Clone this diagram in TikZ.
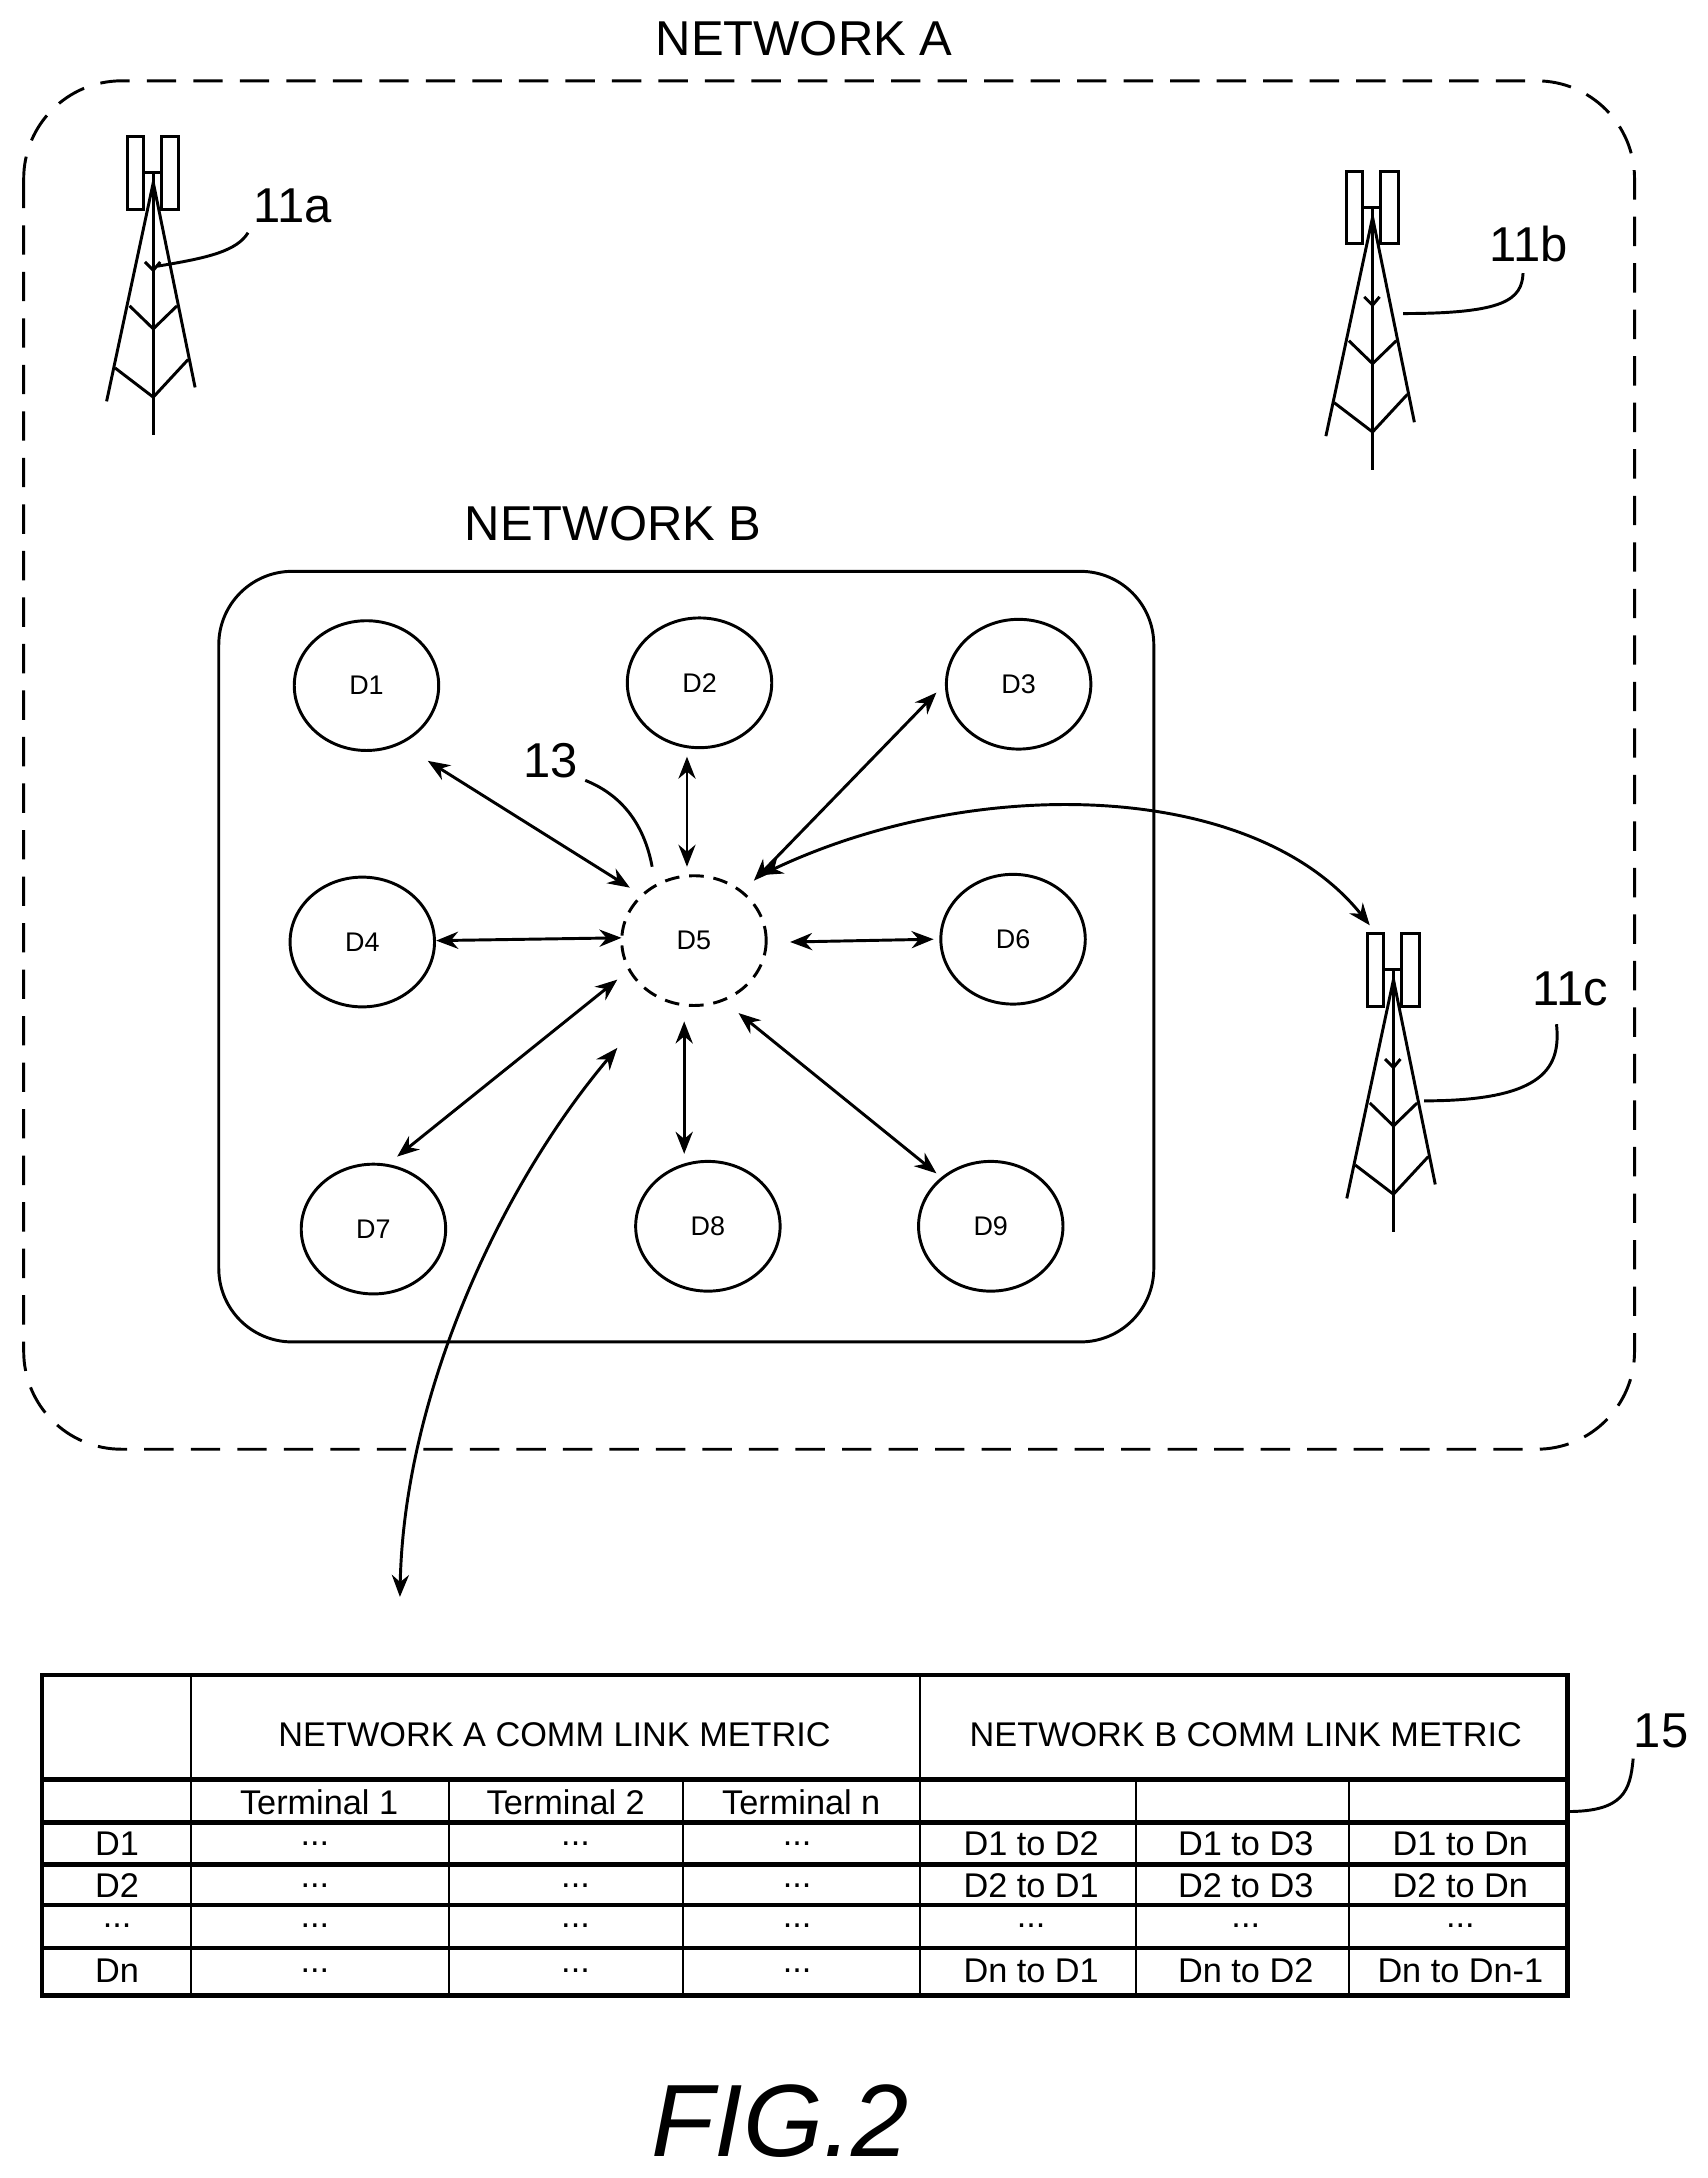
\documentclass[tikz,border=0pt]{standalone}
\usepackage{fontspec}
\setmainfont{Liberation Sans}
\usetikzlibrary{positioning,calc,arrows.meta,shapes.geometric}
\tikzset{>={Stealth[length=9pt,width=7pt]}}
\tikzset{
  dev/.style={draw,line width=1.2pt,ellipse,minimum width=59pt,minimum height=53pt,inner sep=0pt,font=\fontsize{11}{13}\selectfont},
  lnk/.style={line width=1.2pt,<->},
  lbl/.style={font=\fontsize{20}{24}\selectfont},
  cell/.style={font=\fontsize{14}{16}\selectfont},
}
\newcommand{\ddd}{...}
% tower drawn from the top centre of its antenna
\newcommand{\celltower}[2]{%
\begin{scope}[shift={(#1,#2)},line width=1.2pt]
\draw (-18.7,0) rectangle (-7.2,52);
\draw (6,0) rectangle (18.4,52);
\draw (-7.2,26) -- (6,26);
\draw (0,26) -- (0,214);
\draw (-33.5,190) -- (0,33) -- (30,180);
\draw (-6,90) -- (0,96) -- (5,90);
\draw (-17,121.5) -- (0,138) -- (17,121.5);
\draw (-27.5,166) -- (0,187) -- (25,160);
\end{scope}}

\begin{document}
\begin{tikzpicture}[x=0.02cm,y=-0.02cm,line width=1.2pt]
\useasboundingbox (0,0) rectangle (1225,1563);

% network A
\draw[dashed,dash pattern=on 12pt off 7pt,rounded corners=40] (17,58) rectangle (1173,1040);
\node[lbl] (netA) at (577,28) {NETWORK A};

% towers
\celltower{110}{98}
\celltower{985}{123}
\celltower{1000}{670}
\coordinate (t11a) at (113,191);
\coordinate (t11b) at (1007,225);
\coordinate (t11c) at (1022,790);
\node[lbl] (l11a) at (210,148) {11a};
\node[lbl] (l11b) at (1097,175) {11b};
\node[lbl] (l11c) at (1127,710) {11c};
\draw (t11a) .. controls (150,185) and (170,180) .. (178,167);
\draw (t11b) .. controls (1080,225) and (1092,215) .. (1093,196);
\draw (t11c) .. controls (1110,790) and (1120,765) .. (1117,735);

% network B
\draw[rounded corners=30] (157,410) rectangle (828,963);
\node[lbl] (netB) at (440,376) {NETWORK B};

\node[dev] (d1) at (263,492) {D1};
\node[dev] (d2) at (502,490) {D2};
\node[dev] (d3) at (731,491) {D3};
\node[dev] (d4) at (260,676) {D4};
\node[dev,dashed,dash pattern=on 6pt off 4pt] (d5) at (498,675) {D5};
\node[dev] (d6) at (727,674) {D6};
\node[dev] (d7) at (268,882) {D7};
\node[dev] (d8) at (508,880) {D8};
\node[dev] (d9) at (711,880) {D9};

\draw[lnk] (307,546) -- (452,637);
\draw[lnk] (493,543) -- (493,622);
\draw[lnk] (672,497) -- (541,632);
\draw[lnk] (313,675) -- (446,673);
\draw[lnk] (567,676) -- (670,674);
\draw[lnk] (443,703) -- (285,830);
\draw[lnk] (491,733) -- (491,828);
\draw[lnk] (530,727) -- (672,842);

\node[lbl] (l13) at (395,546) {13};
\draw (420,560) .. controls (445,570) and (462,590) .. (468,622);

% links leaving network B
\coordinate (c11c) at (983,664);
\coordinate (ctab) at (287,1146);
\draw[lnk] (546,628) .. controls (700,555) and (900,560) .. (c11c);
\draw[lnk] (443,752) .. controls (360,850) and (290,1000) .. (ctab);

% table
\draw[line width=1.8pt] (30,1202) rectangle (1125,1432);
\foreach \y in {1277,1308,1338,1367,1398}
  \draw[line width=1.8pt] (30,\y) -- (1125,\y);
\draw[line width=0.8pt] (137,1202) -- (137,1432);
\draw[line width=0.8pt] (660,1202) -- (660,1432);
\foreach \x in {322,490,815,968}
  \draw[line width=0.8pt] (\x,1277) -- (\x,1432);
\node[cell] (hA) at (398,1245) {NETWORK A COMM LINK METRIC};
\node[cell] (hB) at (894,1245) {NETWORK B COMM LINK METRIC};
\node[cell] (t1) at (229,1293) {Terminal 1};
\node[cell] (t2) at (406,1293) {Terminal 2};
\node[cell] (tn) at (575,1293) {Terminal n};
\foreach \r/\y/\a/\b/\c in {D1/1323/D1 to D2/D1 to D3/D1 to Dn,
                            D2/1353/D2 to D1/D2 to D3/D2 to Dn,
                            \ddd/1382/\ddd/\ddd/\ddd,
                            Dn/1414/Dn to D1/Dn to D2/Dn to Dn-1}{
  \node[cell] at (84,\y) {\r};
  \node[cell] at (226,\y) {\ddd};
  \node[cell] at (413,\y) {\ddd};
  \node[cell] at (572,\y) {\ddd};
  \node[cell] at (740,\y) {\a};
  \node[cell] at (894,\y) {\b};
  \node[cell] at (1048,\y) {\c};
}
\node[lbl] (l15) at (1192,1242) {15};
\draw (1125,1300) .. controls (1165,1300) and (1170,1285) .. (1172,1262);

\node[font=\fontsize{42}{48}\selectfont\itshape] (fig) at (560,1522) {FIG.2};
\end{tikzpicture}
\end{document}
